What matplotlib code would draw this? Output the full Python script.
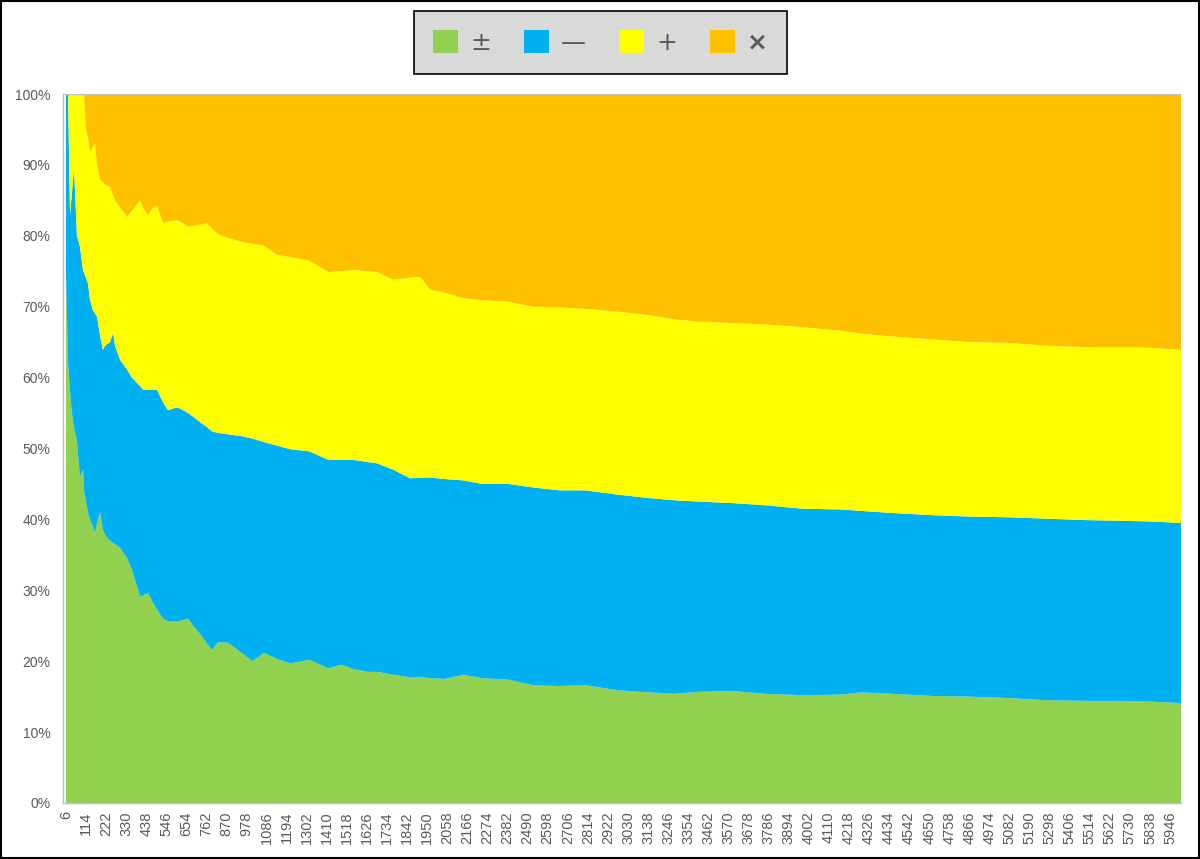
import matplotlib
matplotlib.use("Agg")
import matplotlib.pyplot as plt
from matplotlib.patches import Patch, Rectangle
from matplotlib.ticker import FuncFormatter

# ---- data (share in % of each series at sampled categories) ----
categories = [6, 17, 28, 38, 49, 65, 81, 98, 103, 114, 124, 135, 151, 162, 173, 189,
              205, 216, 243, 259, 270, 297, 335, 361, 405, 421, 448, 469, 496, 528,
              555, 604, 636, 663, 690, 738, 765, 792, 825, 878, 959, 1008, 1072, 1142,
              1212, 1315, 1417, 1487, 1552, 1627, 1681, 1767, 1859, 1912, 1966, 2042,
              2144, 2246, 2386, 2521, 2661, 2801, 2973, 3146, 3280, 3420, 3593, 3765,
              3975, 4180, 4282, 4454, 4664, 4869, 5079, 5284, 5494, 5698, 5844, 6005]

green = [75, 62, 58, 55, 53, 51, 46, 47, 44, 42.5, 41, 40, 39, 38, 39.5, 41,
         38.5, 37.8, 37, 36.7, 36.5, 36, 34.5, 32.9, 29.1, 29.3, 29.6, 28.5, 27.3, 26,
         25.6, 25.6, 25.8, 26, 25, 23.5, 22.5, 21.6, 22.7, 22.6, 21, 20, 21.2, 20.3,
         19.7, 20.2, 19, 19.5, 18.9, 18.5, 18.5, 18.1, 17.7, 17.8, 17.6, 17.5,
         18.1, 17.6, 17.4, 16.6, 16.5, 16.6, 15.9, 15.6, 15.4, 15.7, 15.8, 15.4,
         15.2, 15.3, 15.6, 15.4, 15.1, 15, 14.8, 14.5, 14.4, 14.4, 14.3, 14.1]

blue = [25, 38, 25, 31, 36.7, 29, 32.5, 28, 30.8, 31.5, 32.3, 31, 30.5, 31, 29.1, 25,
        25.4, 26.7, 28, 29.6, 28, 26.5, 26.6, 27.1, 29.7, 29, 28.7, 29.8, 31, 30.5,
        29.8, 30.2, 29.6, 29, 29.5, 30, 30.5, 30.8, 29.5, 29.4, 30.7, 31.4, 29.7, 30.1,
        30.2, 29.4, 29.4, 28.9, 29.5, 29.6, 29.4, 28.9, 28.1, 28.1, 28.3, 28.2,
        27.4, 27.4, 27.6, 27.9, 27.6, 27.5, 27.6, 27.4, 27.3, 26.8, 26.5, 26.6,
        26.3, 26.1, 25.6, 25.5, 25.5, 25.4, 25.5, 25.6, 25.5, 25.4, 25.4, 25.4]

yellow = [0, 0, 17, 14, 10.3, 20, 21.5, 25, 25.2, 21, 20.7, 20.7, 23, 24.1, 21.4, 21.9,
          23.6, 22.7, 21.9, 19.5, 20.5, 21.5, 21.6, 23.5, 26.2, 25.7, 24.6, 25.5, 26, 25.3,
          26.6, 26.4, 26.4, 26.3, 26.9, 28.1, 28.8, 28.6, 28, 27.7, 27.4, 27.5, 27.7, 26.9,
          27.1, 26.9, 26.5, 26.6, 26.8, 26.9, 27, 26.8, 28.3, 28.3, 26.5, 26.3,
          25.7, 25.9, 25.7, 25.5, 25.8, 25.6, 25.8, 25.8, 25.5, 25.4, 25.4, 25.5,
          25.6, 25.2, 25, 24.9, 24.8, 24.6, 24.6, 24.4, 24.4, 24.5, 24.5, 24.4]

orange = [0, 0, 0, 0, 0, 0, 0, 0, 0, 5, 6, 8.3, 7.5, 6.9, 10, 12.1,
          12.5, 12.8, 13.1, 14.2, 15, 16, 17.3, 16.5, 15, 16, 17.1, 16.2, 15.7, 18.2,
          18, 17.8, 18.2, 18.7, 18.6, 18.4, 18.2, 19, 19.8, 20.3, 20.9, 21.1, 21.4, 22.7,
          23, 23.5, 25.1, 25, 24.8, 25, 25.1, 26.2, 25.9, 25.8, 27.6, 28,
          28.8, 29.1, 29.3, 30, 30.1, 30.3, 30.7, 31.2, 31.8, 32.1, 32.3, 32.5,
          32.9, 33.4, 33.8, 34.2, 34.6, 35, 35.1, 35.5, 35.7, 35.7, 35.8, 36.1]

series_labels = ["\u00b1", "\u2014", "+", "\u00d7"]
colors = ["#92d050", "#00b0f0", "#ffff00", "#ffc000"]
tick_labels = list(range(6, 5947, 108))

# ---- figure ----
plt.rcParams['font.family'] = ['Liberation Sans', 'DejaVu Sans']
fig = plt.figure(figsize=(12, 8.59), dpi=100)
ax = fig.add_axes([63 / 1200, 1 - 803 / 859, 1118 / 1200, 709 / 859])

ax.stackplot(categories, green, blue, yellow, orange, colors=colors,
             edgecolor="none", linewidth=0, antialiased=True)

ax.set_xlim(-10, 6005)
ax.set_ylim(0, 100)
ax.set_yticks(range(0, 101, 10))
ax.yaxis.set_major_formatter(FuncFormatter(lambda v, p: f"{int(v)}%"))
ax.set_xticks(tick_labels)
ax.set_xticklabels([str(t) for t in tick_labels], rotation=90)
ax.tick_params(axis="both", length=0, colors="#595959")
ax.tick_params(axis="x", pad=6, labelsize=10.5)
ax.tick_params(axis="y", pad=9, labelsize=10)
for s in ["top", "right"]:
    ax.spines[s].set_visible(False)
for s in ["left", "bottom"]:
    ax.spines[s].set_color("#bfbfbf")
    ax.spines[s].set_linewidth(1)
ax.axhline(100, color="#bfbfbf", lw=1, zorder=5)

handles = [Patch(facecolor=c, edgecolor="none") for c in colors]
leg = fig.legend(handles, series_labels, loc="center", bbox_to_anchor=(600.5 / 1200, 1 - 42.5 / 859),
                 ncol=4, frameon=True, fancybox=False,
                 handlelength=1.0, handleheight=1.0, handletextpad=0.5,
                 columnspacing=1.3, borderpad=0.75, labelcolor="#595959",
                 prop={"family": ["DejaVu Sans"], "size": 18})
leg.get_texts()[3].set_fontweight("bold")
leg.get_frame().set_facecolor("#d9d9d9")
leg.get_frame().set_edgecolor("#000000")
leg.get_frame().set_linewidth(1.2)
leg.get_frame().set_alpha(1)

fig.patches.append(Rectangle((0.0008, 0.001), 0.9984, 0.998, transform=fig.transFigure,
                             fill=False, edgecolor="#000000", linewidth=1.5))

fig.savefig("out.png", dpi=100)
